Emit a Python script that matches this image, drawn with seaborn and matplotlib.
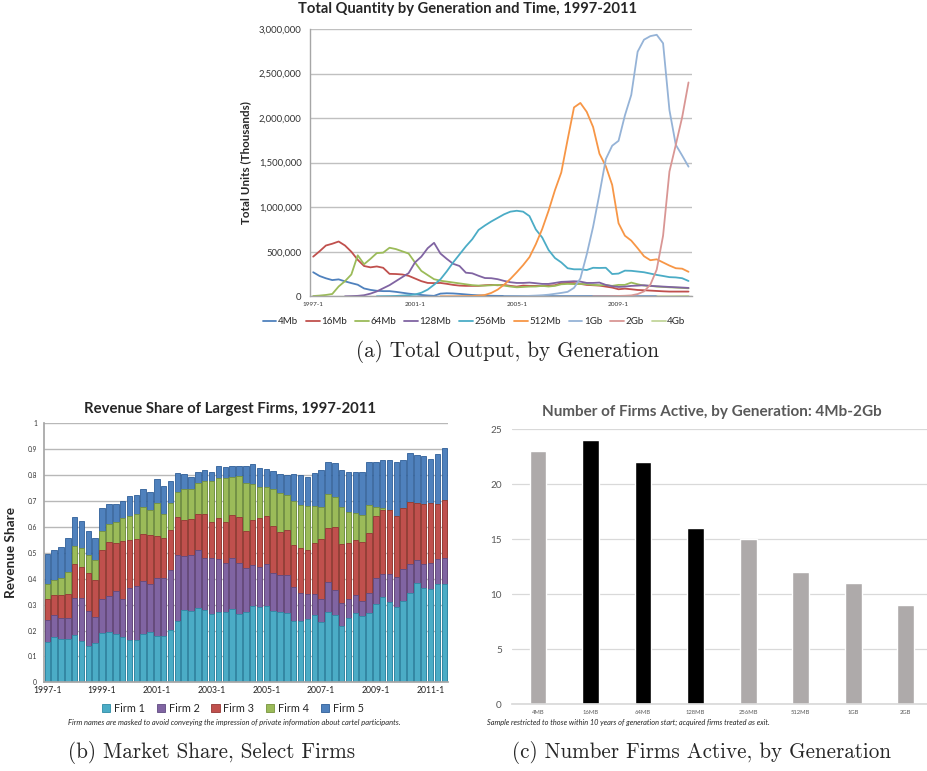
import numpy as np
import pandas as pd
import matplotlib
matplotlib.use("Agg")
import matplotlib.pyplot as plt
import seaborn as sns
from matplotlib.ticker import FuncFormatter, FixedLocator

N = None
UNIT = 1000  # values below are in thousands of the axis unit

# ---------------- Panel (a): total output by generation ----------------
quarters_a = [f"{y}-{q}" for y in range(1997, 2012) for q in range(1, 5)]
xticks_a = ["1997-1", "2001-1", "2005-1", "2009-1"]
gen_names = ["4Mb", "16Mb", "64Mb", "128Mb", "256Mb", "512Mb", "1Gb", "2Gb", "4Gb"]

gen_4mb = [270, 228, 202, 182, 190, 168, 148, 130, 88, 72,
           62, 58, 58, 50, 40, 30, 22, 15, 9, 5,
           30, 34, 32, 27, 21, 15, 11, 8, 6, 5,
           4, 4, 4, 3, 3, 3, 3, 3, 2, 2,
           2, 2, 2, 2, 2, 2, 2, 1, 1, 1,
           1, 1, 1, 1, 1, N, N, N, N, N]
gen_16mb = [445, 505, 570, 590, 615, 570, 500, 410, 340, 325,
            335, 320, 252, 250, 245, 230, 200, 170, 150, 148,
            150, 140, 128, 120, 117, 117, 117, 124, 128, 124,
            128, 117, 109, 120, 117, 117, 117, 120, 124, 147,
            150, 148, 139, 128, 124, 120, 109, 98, 79, 86,
            79, 71, 68, 64, 60, 56, 53, 53, 53, 53]
gen_64mb = [3, 8, 15, 26, 110, 170, 245, 460, 360, 420,
            485, 490, 545, 530, 505, 480, 380, 285, 238, 192,
            175, 165, 155, 145, 135, 125, 120, 120, 124, 128,
            120, 109, 101, 105, 109, 110, 117, 110, 117, 135,
            139, 137, 138, 137, 128, 124, 126, 117, 128, 128,
            154, 135, 120, 117, 109, 105, 101, 98, 94, 90]
gen_128mb = [N, N, N, N, N, 0, 2, 5, 12, 30,
             55, 90, 125, 170, 215, 260, 380, 445, 540, 600,
             480, 420, 365, 340, 265, 258, 230, 205, 203, 192,
             173, 158, 150, 150, 154, 147, 139, 139, 150, 162,
             165, 169, 165, 150, 150, 154, 128, 113, 105, 109,
             117, 120, 124, 117, 113, 109, 105, 101, 98, 94]
gen_256mb = [N, N, N, N, N, N, N, N, N, N,
             0, 1, 2, 4, 8, 12, 20, 40, 75, 130,
             190, 280, 380, 470, 560, 640, 745, 795, 840, 880,
             920, 950, 960, 950, 900, 750, 660, 520, 430, 380,
             315, 303, 303, 295, 320, 318, 320, 250, 255, 288,
             286, 278, 270, 255, 240, 228, 215, 212, 203, 172]
gen_512mb = [N] * 20 + [
             0, 0, 0, 1, 2, 3, 8, 15, 38, 75,
             130, 195, 270, 350, 440, 585, 755, 960, 1190, 1390,
             1760, 2120, 2170, 2070, 1900, 1600, 1460, 1250, 820, 680,
             625, 540, 450, 405, 415, 380, 345, 315, 310, 275]
gen_1gb = [N] * 30 + [
           0, 1, 2, 3, 5, 8, 12, 18, 28, 38,
           50, 95, 200, 470, 780, 1150, 1540, 1690, 1745, 2030,
           2260, 2745, 2880, 2920, 2935, 2840, 2090, 1700, 1580, 1455]
gen_2gb = [N] * 44 + [0, 0, 1, 2, 4, 6,
                      10, 25, 55, 130, 300, 680, 1400, 1700, 2010, 2400]
gen_4gb = [N] * 54 + [0, 1, 1, 2, 3, 4]

line_colors = ["#4F81BD", "#C0504D", "#9BBB59", "#8064A2", "#4BACC6",
               "#F79646", "#95B3D7", "#D99694", "#C3D69B"]

# ---------------- Panel (b): revenue share of largest firms ----------------
quarters_b = quarters_a[:59]
xticks_b = ["1997-1", "1999-1", "2001-1", "2003-1", "2005-1", "2007-1", "2009-1", "2011-1"]
firm_names = ["Firm 1", "Firm 2", "Firm 3", "Firm 4", "Firm 5"]
firm1 = [.157, .174, .167, .167, .183, .161, .142, .153, .189, .194,
         .185, .175, .163, .163, .185, .193, .179, .180, .202, .238,
         .279, .275, .288, .279, .264, .273, .273, .282, .264, .270,
         .295, .292, .296, .275, .273, .266, .238, .238, .246, .258,
         .234, .270, .259, .219, .249, .266, .256, .266, .302, .330,
         .311, .290, .314, .345, .382, .363, .362, .379, .378]
firm2 = [.084, .086, .083, .080, .141, .163, .133, .099, .133, .139,
         .168, .145, .200, .209, .208, .187, .223, .224, .230, .254,
         .209, .217, .223, .200, .215, .203, .189, .197, .198, .170,
         .158, .155, .160, .148, .141, .148, .131, .108, .094, .082,
         .088, .117, .097, .086, .073, .071, .059, .080, .100, .090,
         .106, .116, .125, .113, .092, .095, .099, .096, .103]
firm3 = [.081, .077, .087, .094, .134, .123, .147, .143, .188, .208,
         .184, .227, .185, .180, .180, .189, .164, .152, .157, .148,
         .139, .139, .139, .171, .140, .157, .158, .167, .178, .144,
         .174, .189, .185, .181, .168, .174, .161, .174, .171, .197,
         .230, .210, .245, .229, .215, .213, .228, .232, .242, .245,
         .248, .238, .234, .239, .219, .231, .230, .214, .221]
firm4 = [.056, .058, .067, .084, .070, .070, .070, .077, .076, .072,
         .081, .086, .096, .098, .103, .096, .125, .094, .102, .094,
         .120, .116, .121, .127, .158, .157, .168, .148, .157, .187,
         .139, .117, .114, .143, .148, .135, .170, .165, .170, .142,
         .124, .129, .116, .144, .122, .103, .103, .107, .034, .007,
         0, 0, 0, 0, 0, 0, 0, 0, 0]
firm5 = [.116, .115, .120, .131, .110, .106, .094, .087, .086, .076,
         .071, .067, .075, .072, .069, .071, .094, .109, .086, .073,
         .056, .045, .040, .043, .036, .045, .045, .043, .040, .066,
         .076, .073, .069, .069, .076, .077, .103, .115, .113, .131,
         .144, .123, .129, .142, .154, .160, .167, .167, .174, .186,
         .193, .206, .184, .190, .185, .184, .173, .192, .203]
firm_colors = ["#4BACC6", "#8064A2", "#C0504D", "#9BBB59", "#4F81BD"]
firm_edges = ["#2E8BA5", "#5F4A80", "#953735", "#76923C", "#2F5F98"]

# ---------------- Panel (c): number of firms active ----------------
gens_c = ["4MB", "16MB", "64MB", "128MB", "256MB", "512MB", "1GB", "2GB"]
firms_c = [23, 24, 22, 16, 15, 12, 11, 9]
colors_c = ["#AEAAAA", "#000000", "#000000", "#000000", "#AEAAAA", "#AEAAAA", "#AEAAAA", "#AEAAAA"]

# ======================================================================
sns.set_theme(style="white")
plt.rcParams["font.family"] = ["Lato", "DejaVu Sans"]

W, H = 927, 771
fig = plt.figure(figsize=(W / 100, H / 100), dpi=100)


def rect(x0, y0, x1, y1):
    return [x0 / W, 1 - y1 / H, (x1 - x0) / W, (y1 - y0) / H]


def fx(x):
    return x / W


def fy(y):
    return 1 - y / H


# ---------------- (a) ----------------
ax_a = fig.add_axes(rect(310, 29, 691.7, 296.3))
series_a = [gen_4mb, gen_16mb, gen_64mb, gen_128mb, gen_256mb,
            gen_512mb, gen_1gb, gen_2gb, gen_4gb]
rows = []
for name, vals in zip(gen_names, series_a):
    for i, v in enumerate(vals):
        if v is not None:
            rows.append((i, v * UNIT, name))
df_a = pd.DataFrame(rows, columns=["q", "units", "gen"])
sns.lineplot(data=df_a, x="q", y="units", hue="gen", hue_order=gen_names,
             palette=line_colors, linewidth=1.3, ax=ax_a, legend=True)
ax_a.set_xlim(-0.5, 59.5)
ax_a.set_ylim(0, 3_000_000)
ax_a.yaxis.set_major_locator(FixedLocator(np.arange(0, 3_000_001, 500_000)))
ax_a.yaxis.set_major_formatter(FuncFormatter(lambda v, p: f"{v:,.0f}"))
ax_a.set_xticks([quarters_a.index(t) for t in xticks_a])
ax_a.set_xticklabels(xticks_a)
ax_a.tick_params(axis="y", labelsize=6.8, length=0, pad=6, labelcolor="#333333")
ax_a.tick_params(axis="x", labelsize=4.6, length=0, pad=4, labelcolor="#333333")
ax_a.grid(axis="y", color="#C0C0C0", linewidth=1.0)
ax_a.set_axisbelow(True)
for s in ["top", "right"]:
    ax_a.spines[s].set_visible(False)
for s in ["left", "bottom"]:
    ax_a.spines[s].set_color("#A6A6A6")
    ax_a.spines[s].set_linewidth(1.0)
ax_a.set_xlabel("")
ax_a.set_ylabel("Total Units (Thousands)", fontsize=8.4, fontweight="bold")
ax_a.yaxis.set_label_coords(-0.153, 0.5)
sns.move_legend(ax_a, "center", bbox_to_anchor=(fx(474), fy(321.7)),
                bbox_transform=fig.transFigure, ncol=9, frameon=False, title=None,
                fontsize=7, handlelength=1.4, columnspacing=0.85, handletextpad=0.15)
fig.text(fx(468), fy(9), "Total Quantity by Generation and Time, 1997-2011",
         ha="center", va="center", fontsize=10.6, fontweight="bold")

# ---------------- (b) ----------------
ax_b = fig.add_axes(rect(43.9, 423.3, 447.7, 682.3))
firms = [firm1, firm2, firm3, firm4, firm5]
cums = np.cumsum(np.array(firms), axis=0)
for j in range(4, -1, -1):
    sns.barplot(x=quarters_b, y=cums[j], color=firm_colors[j], saturation=1,
                width=0.8, edgecolor=firm_edges[j], linewidth=0.6,
                label=firm_names[j], ax=ax_b)
ax_b.set_xlim(-0.5, 58.5)
ax_b.set_ylim(0, 1)
ax_b.set_yticks(np.round(np.arange(0, 1.01, 0.1), 1))
ax_b.set_yticklabels(["0", "0.1", "0.2", "0.3", "0.4", "0.5", "0.6", "0.7", "0.8", "0.9", "1"])
ax_b.set_xticks([quarters_b.index(t) for t in xticks_b])
ax_b.set_xticklabels(xticks_b)
ax_b.tick_params(axis="y", labelsize=4.8, length=0, pad=5, labelcolor="#333333")
ax_b.tick_params(axis="x", labelsize=6.2, length=0, pad=3, labelcolor="#222222")
ax_b.grid(axis="y", color="#B8B8B8", linewidth=1.0)
ax_b.set_axisbelow(True)
for s in ["top", "right"]:
    ax_b.spines[s].set_visible(False)
for s in ["left", "bottom"]:
    ax_b.spines[s].set_color("#A6A6A6")
ax_b.set_xlabel("")
ax_b.set_ylabel("Revenue Share", fontsize=9.8, fontweight="bold")
ax_b.yaxis.set_label_coords(-0.066, 0.5)
handles, labels = ax_b.get_legend_handles_labels()
order = [labels.index(n) for n in firm_names]
ax_b.legend([handles[i] for i in order], firm_names, loc="center",
            bbox_to_anchor=(fx(233), fy(708)), bbox_transform=fig.transFigure,
            ncol=5, frameon=False, fontsize=7.8, handlelength=0.75, handleheight=0.75,
            columnspacing=1.1, handletextpad=0.35)
fig.text(fx(230), fy(409), "Revenue Share of Largest Firms, 1997-2011",
         ha="center", va="center", fontsize=10.7, fontweight="bold")
fig.text(fx(234.7), fy(722.7),
         "Firm names are masked to avoid conveying the impression of private information about cartel participants.",
         ha="center", va="center", fontsize=5.4, style="italic")

# ---------------- (c) ----------------
ax_c = fig.add_axes(rect(511.7, 429.3, 932, 704))
sns.barplot(x=gens_c, y=firms_c, hue=gens_c, palette=colors_c, legend=False,
            saturation=1, width=0.32, ax=ax_c)
ax_c.set_xlim(-0.5, 7.5)
ax_c.set_ylim(0, 25)
ax_c.set_yticks([0, 5, 10, 15, 20, 25])
ax_c.tick_params(axis="y", labelsize=7.2, length=0, pad=7, labelcolor="#595959")
ax_c.tick_params(axis="x", labelsize=4.2, length=0, pad=4, labelcolor="#595959")
ax_c.grid(axis="y", color="#D9D9D9", linewidth=0.9)
ax_c.set_axisbelow(True)
for s in ["top", "right", "left"]:
    ax_c.spines[s].set_visible(False)
ax_c.spines["bottom"].set_color("#D9D9D9")
ax_c.set_xlabel("")
ax_c.set_ylabel("")
fig.text(fx(711.7), fy(411.7), "Number of Firms Active, by Generation: 4Mb-2Gb",
         ha="center", va="center", fontsize=11.0, fontweight="bold", color="#595959")
fig.text(fx(486.7), fy(722.7),
         "Sample restricted to those within 10 years of generation start; acquired firms treated as exit.",
         ha="left", va="center", fontsize=5.3, style="italic", color="#222222")

# ---------------- captions ----------------
cap_kw = dict(ha="center", va="center", fontsize=15.2, family="cmr10")
fig.text(fx(507), fy(352), "(a) Total Output, by Generation", **cap_kw)
fig.text(fx(212), fy(752), "(b) Market Share, Select Firms", **cap_kw)
fig.text(fx(701), fy(752), "(c) Number Firms Active, by Generation", **cap_kw)

fig.savefig("out.png", dpi=100)
